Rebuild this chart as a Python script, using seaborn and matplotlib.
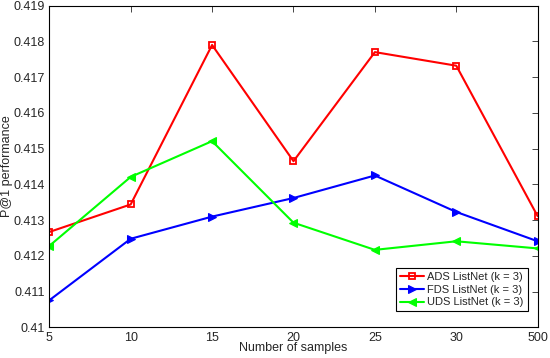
import pandas as pd
import numpy as np
import matplotlib
matplotlib.use('Agg')
import matplotlib.pyplot as plt
import seaborn as sns

# Values
samples = ['5', '10', '15', '20', '25', '30', '500']
ads = [0.41267, 0.41344, 0.41790, 0.41465, 0.41770, 0.41732, 0.41311]
fds = [0.41076, 0.41248, 0.41310, 0.41362, 0.41425, 0.41323, 0.41241]
uds = [0.41228, 0.41421, 0.41521, 0.41293, 0.41217, 0.41241, 0.41221]
series_names = ['ADS ListNet (k = 3)', 'FDS ListNet (k = 3)', 'UDS ListNet (k = 3)']

rows = []
for name, vals in zip(series_names, [ads, fds, uds]):
    for i, v in enumerate(vals):
        rows.append({'pos': i, 'value': v, 'method': name})
df = pd.DataFrame(rows)

sns.set_style('white')
plt.rcParams['font.family'] = ['Liberation Sans', 'DejaVu Sans']

fig = plt.figure(figsize=(5.5, 3.58), dpi=100)
ax = fig.add_axes([0.0896, 0.0853, 0.888, 0.899])

palette = {series_names[0]: '#ff0000', series_names[1]: '#0000ff', series_names[2]: '#00ff00'}
markers = {series_names[0]: 's', series_names[1]: '>', series_names[2]: '<'}

for name in series_names:
    sub = df[df['method'] == name]
    if markers[name] == 's':
        style = dict(markersize=4.5, markerfacecolor='none', markeredgewidth=1.3)
    else:
        style = dict(markersize=6, markerfacecolor=palette[name])
    sns.lineplot(data=sub, x='pos', y='value', ax=ax, color=palette[name],
                 marker=markers[name], linewidth=1.5,
                 markeredgecolor=palette[name], label=name, **style)

ax.set_xlim(0, len(samples) - 1)
ax.set_ylim(0.41, 0.419)
ax.set_xticks(range(len(samples)))
ax.set_xticklabels(samples)
yt = np.arange(0.410, 0.4191, 0.001)
ax.set_yticks(yt)
ax.set_yticklabels(['0.41'] + ['%.3f' % t for t in yt[1:]])
ax.tick_params(direction='in', top=True, right=True, length=4, labelsize=9, width=0.6, pad=3)
for s in ax.spines.values():
    s.set_color('black')
    s.set_linewidth(0.8)
ax.set_xlabel('Number of samples', fontsize=9)
ax.set_ylabel('P@1 performance', fontsize=9)
ax.xaxis.set_label_coords(0.5, -0.046)
ax.yaxis.set_label_coords(-0.074, 0.5)

leg = ax.legend(loc='lower right', bbox_to_anchor=(0.9796, 0.05), fontsize=8,
                fancybox=False, framealpha=1, edgecolor='black', borderaxespad=0,
                handlelength=2.2, handletextpad=0.3, labelspacing=0.25, borderpad=0.35)
leg.get_frame().set_linewidth(0.8)

fig.savefig('out.png', dpi=100)
